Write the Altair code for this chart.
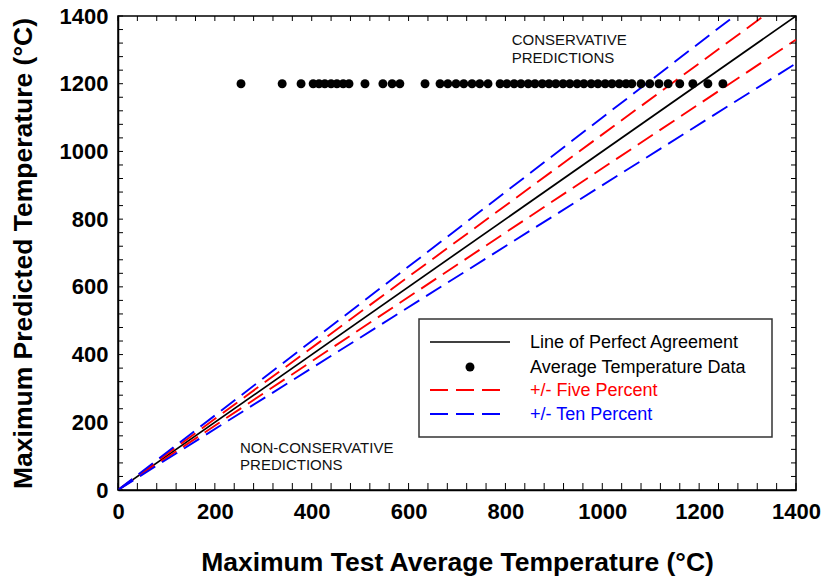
import altair as alt
import pandas as pd

# ---- data ----
test_avg_temp = [254, 339, 378, 403, 415, 427, 440, 452, 465, 477, 510, 547, 566, 582,
                 634, 665, 681, 698, 714, 731, 747, 764, 789, 803, 818, 832, 847, 861,
                 876, 890, 904, 919, 933, 948, 962, 977, 991, 1006, 1020, 1035, 1049,
                 1061, 1080, 1098, 1117, 1136, 1160, 1187, 1218, 1249]
predicted_temp = [1200] * len(test_avg_temp)

line_names = ["Line of Perfect Agreement", "+5%", "-5%", "+10%", "-10%"]
line_factors = [1.0, 1.05, 0.95, 1.10, 0.90]
line_colors = ["black", "red", "red", "blue", "blue"]

legend_labels = ["Line of Perfect Agreement", "Average Temperature Data",
                 "+/- Five Percent", "+/- Ten Percent"]
legend_colors = ["#000000", "#000000", "#ff0000", "#0000ff"]

minor_ticks = list(range(0, 1401, 40))
major_ticks = list(range(0, 1401, 200))

W, H = 678, 474
FONT = "Liberation Sans"

xs = alt.Scale(domain=[0, 1400], nice=False, zero=False)
ys = alt.Scale(domain=[0, 1400], nice=False, zero=False)

# lines
rows = []
for n, f, c in zip(line_names, line_factors, line_colors):
    rows.append({"name": n, "x": 0, "y": 0, "c": c})
    rows.append({"name": n, "x": 1400, "y": 1400 * f, "c": c})
lines_df = pd.DataFrame(rows)

base_axes = alt.Chart(pd.DataFrame({"x": [0], "y": [0]})).mark_point(opacity=0).encode(
    x=alt.X("x:Q", scale=xs,
            axis=alt.Axis(title="Maximum Test Average Temperature (°C)", values=major_ticks,
                          format="d", labelFlush=False,
                          ticks=False, grid=False, domainColor="black", domainWidth=1.5,
                          labelFont=FONT, labelFontSize=22, labelFontWeight="bold",
                          labelColor="black", labelPadding=11,
                          titleFont=FONT, titleFontSize=26.5, titleFontWeight="bold",
                          titleColor="black", titlePadding=27)),
    y=alt.Y("y:Q", scale=ys,
            axis=alt.Axis(title="Maximum Predicted Temperature (°C)", values=major_ticks,
                          format="d", labelFlush=False,
                          ticks=False, grid=False, domainColor="black", domainWidth=1.5,
                          labelFont=FONT, labelFontSize=22, labelFontWeight="bold",
                          labelColor="black", labelPadding=10,
                          titleFont=FONT, titleFontSize=26.5, titleFontWeight="bold",
                          titleColor="black", titlePadding=22)),
)

solid = alt.Chart(lines_df[lines_df["name"] == "Line of Perfect Agreement"]).mark_line(
    color="black", strokeWidth=1.7, clip=True).encode(
    x=alt.X("x:Q", scale=xs), y=alt.Y("y:Q", scale=ys), detail="name:N")

dashed_layers = []
for n, c in zip(line_names[1:], line_colors[1:]):
    dashed_layers.append(
        alt.Chart(lines_df[lines_df["name"] == n]).mark_line(
            color=c, strokeWidth=1.9, strokeDash=[18, 8], clip=True).encode(
            x=alt.X("x:Q", scale=xs), y=alt.Y("y:Q", scale=ys))
    )

pts = alt.Chart(pd.DataFrame({"x": test_avg_temp, "y": predicted_temp})).mark_circle(
    color="black", opacity=1, size=80).encode(
    x=alt.X("x:Q", scale=xs), y=alt.Y("y:Q", scale=ys))

# inward ticks on all four sides
tick_df = pd.DataFrame({"v": minor_ticks})
tick_bottom = alt.Chart(tick_df).mark_rule(color="black", strokeWidth=1).encode(
    x=alt.X("v:Q", scale=xs), y=alt.value(H), y2=alt.value(H - 7))
tick_top = alt.Chart(tick_df).mark_rule(color="black", strokeWidth=1).encode(
    x=alt.X("v:Q", scale=xs), y=alt.value(0), y2=alt.value(5))
tick_left = alt.Chart(tick_df).mark_rule(color="black", strokeWidth=1).encode(
    y=alt.Y("v:Q", scale=ys), x=alt.value(0), x2=alt.value(5))
tick_right = alt.Chart(tick_df).mark_rule(color="black", strokeWidth=1).encode(
    y=alt.Y("v:Q", scale=ys), x=alt.value(W), x2=alt.value(W - 5))

# region annotations
ann_df = pd.DataFrame({
    "x": [813, 813, 252, 252],
    "y": [1329, 1276, 124, 74],
    "t": ["CONSERVATIVE", "PREDICTIONS", "NON-CONSERVATIVE", "PREDICTIONS"],
})
ann = alt.Chart(ann_df).mark_text(align="left", baseline="middle", font=FONT,
                                  fontSize=15, color="#111111").encode(
    x=alt.X("x:Q", scale=xs), y=alt.Y("y:Q", scale=ys), text="t:N")

# manual legend (pixel positions inside plot)
LX0, LX1, LY0, LY1 = 301, 654, 303, 421
leg_box = alt.Chart(pd.DataFrame({"a": [0]})).mark_rect(
    fill="white", stroke="#333333", strokeWidth=1.5).encode(
    x=alt.value(LX0), x2=alt.value(LX1), y=alt.value(LY0), y2=alt.value(LY1))
leg_rows_y = [326, 351, 374, 398]
leg_line = alt.Chart(pd.DataFrame({"a": [0]})).mark_rule(color="black", strokeWidth=1.7).encode(
    x=alt.value(312), x2=alt.value(392), y=alt.value(leg_rows_y[0]))
leg_dot = alt.Chart(pd.DataFrame({"a": [0]})).mark_circle(color="black", opacity=1, size=80).encode(
    x=alt.value(352), y=alt.value(leg_rows_y[1]))
leg_red = alt.Chart(pd.DataFrame({"a": [0]})).mark_rule(
    color="red", strokeWidth=1.9, strokeDash=[18, 8]).encode(
    x=alt.value(312), x2=alt.value(384), y=alt.value(leg_rows_y[2]))
leg_blue = alt.Chart(pd.DataFrame({"a": [0]})).mark_rule(
    color="blue", strokeWidth=1.9, strokeDash=[18, 8]).encode(
    x=alt.value(312), x2=alt.value(384), y=alt.value(leg_rows_y[3]))
leg_text_layers = []
for lab, col, yy in zip(legend_labels, legend_colors, leg_rows_y):
    leg_text_layers.append(
        alt.Chart(pd.DataFrame({"t": [lab]})).mark_text(
            align="left", baseline="middle", font=FONT, fontSize=18, color=col).encode(
            x=alt.value(412), y=alt.value(yy + 1), text="t:N"))

chart = alt.layer(
    base_axes, solid, *dashed_layers, pts, ann,
    tick_bottom, tick_top, tick_left, tick_right,
    leg_box, leg_line, leg_dot, leg_red, leg_blue, *leg_text_layers,
).properties(
    width=W, height=H,
    autosize=alt.AutoSizeParams(type="none"),
    padding={"left": 118, "top": 16, "right": 28, "bottom": 90},
    background="white",
).configure_view(stroke="black", strokeWidth=1.5)

chart.save("out.html", embed_options={"renderer": "svg", "actions": False})
